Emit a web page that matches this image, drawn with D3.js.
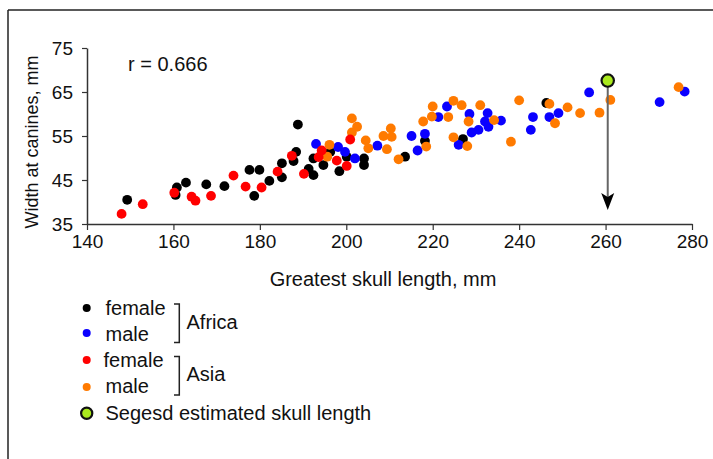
<!DOCTYPE html>
<html>
<head>
<meta charset="utf-8">
<script src="https://cdn.jsdelivr.net/npm/d3@7"></script>
<style>
  html, body { margin: 0; padding: 0; background: #fff; }
  svg { display: block; font-family: "Liberation Sans", Arial, sans-serif; }
</style>
</head>
<body>
<svg id="chart" width="713" height="459"></svg>
<script>
// ---- data ----
const xTicks = [140, 160, 180, 200, 220, 240, 260, 280];
const yTicks = [35, 45, 55, 65, 75];

const africaFemale = [
  [149.3, 40.5], [160.8, 43.3], [160.5, 41.6], [162.9, 44.4], [167.6, 44.0], [171.8, 43.6],
  [177.6, 47.3], [179.9, 47.3], [178.7, 41.4], [182.2, 44.8], [185.1, 45.6], [185.1, 48.8],
  [187.8, 49.3], [188.4, 51.4], [188.8, 57.6], [191.3, 47.5], [192.4, 46.1], [192.4, 49.9],
  [194.7, 48.4], [196.3, 51.4], [198.4, 47.0], [200.1, 50.3], [204.1, 49.9], [204.1, 48.4],
  [213.6, 50.3], [218.2, 53.9], [227.0, 54.3], [246.3, 62.5]
];
const africaMale = [
  [193.0, 53.2], [198.1, 52.5], [199.7, 51.4], [202.0, 49.9], [207.2, 52.8], [215.1, 55.0],
  [218.2, 55.5], [216.5, 51.7], [221.3, 59.3], [223.3, 61.7], [226.0, 53.0], [228.5, 60.0],
  [232.7, 60.2], [232.1, 58.3], [235.8, 58.5], [232.9, 57.1], [230.6, 56.4], [229.0, 55.8],
  [243.2, 59.3], [242.7, 56.4], [247.0, 59.3], [249.1, 60.2], [256.2, 64.9], [272.5, 62.7],
  [278.3, 65.1]
];
const asiaFemale = [
  [148.0, 37.3], [152.9, 39.5], [160.2, 42.1], [164.2, 41.2], [165.1, 40.3], [168.7, 41.4],
  [173.9, 46.0], [176.7, 43.5], [180.4, 43.3], [184.1, 46.9], [187.4, 50.5], [190.2, 46.4],
  [193.6, 50.2], [194.3, 51.7], [197.8, 49.4], [200.1, 48.2], [200.9, 54.2]
];
const asiaMale = [
  [196.1, 53.0], [195.6, 50.3], [201.3, 59.0], [202.5, 57.1], [201.3, 55.8], [204.5, 54.0],
  [205.1, 52.2], [209.4, 52.0], [208.6, 55.0], [210.3, 56.7], [210.5, 54.8], [212.1, 49.7],
  [218.5, 52.6], [217.8, 58.3], [220.0, 61.7], [219.8, 59.4], [223.6, 59.3], [224.8, 63.0],
  [224.8, 54.7], [226.7, 62.0], [231.0, 62.0], [228.3, 58.3], [234.2, 58.6], [228.0, 52.7],
  [240.0, 63.1], [238.1, 53.7], [247.0, 62.3], [248.3, 57.9], [251.2, 61.5], [254.1, 60.2],
  [258.6, 60.3], [261.1, 63.2], [276.9, 66.1]
];
const segesd = [260.5, 67.6];
const arrowEndY = 38.2;
const rLabel = "r = 0.666";

const legendRows = [
  { label: "female", color: "#000000" },
  { label: "male", color: "#0a00ff" },
  { label: "female", color: "#ff0000" },
  { label: "male", color: "#ff7a00" }
];
const legendGroups = ["Africa", "Asia"];
const segesdLabel = "Segesd estimated skull length";

// ---- drawing ----
const svg = d3.select("#chart");
const x = d3.scaleLinear().domain([140, 280]).range([87, 692]);
const y = d3.scaleLinear().domain([35, 75]).range([224, 48]);

// frame (top + left)
svg.append("line").attr("x1", 8).attr("y1", 10).attr("x2", 713).attr("y2", 10)
  .attr("stroke", "#222").attr("stroke-width", 1.5);
svg.append("line").attr("x1", 8).attr("y1", 10).attr("x2", 8).attr("y2", 459)
  .attr("stroke", "#222").attr("stroke-width", 1.5);

const axisColor = "#333";
const gx = svg.append("g").attr("transform", `translate(0,${y(35)})`)
  .call(d3.axisBottom(x).tickValues(xTicks).tickSize(6).tickSizeOuter(0).tickPadding(5));
const gy = svg.append("g").attr("transform", `translate(${x(140)},0)`)
  .call(d3.axisLeft(y).tickValues(yTicks).tickSize(5).tickSizeOuter(0).tickPadding(9));
[gx, gy].forEach(g => {
  g.select(".domain").attr("stroke", axisColor).attr("stroke-width", 1.5);
  g.selectAll(".tick line").attr("stroke", axisColor).attr("stroke-width", 1.2);
  g.selectAll(".tick text").attr("fill", "#111")
    .style("font-size", "19px").style("font-family", "'Liberation Sans', Arial, sans-serif");
});

svg.append("text").attr("x", 383).attr("y", 286).attr("text-anchor", "middle")
  .attr("fill", "#111").style("font-size", "20px").text("Greatest skull length, mm");
svg.append("text").attr("transform", `translate(38,142) rotate(-90)`).attr("text-anchor", "middle")
  .attr("fill", "#111").style("font-size", "18px").text("Width at canines, mm");
svg.append("text").attr("x", 128).attr("y", 71).attr("fill", "#111")
  .style("font-size", "20px").text(rLabel);

// points
const dotR = 4.9;
const groups = [
  { data: africaFemale, color: legendRows[0].color },
  { data: africaMale, color: legendRows[1].color },
  { data: asiaMale, color: legendRows[3].color },
  { data: asiaFemale, color: legendRows[2].color }
];
groups.forEach(gr => {
  svg.append("g").selectAll("circle").data(gr.data).join("circle")
    .attr("cx", d => x(d[0])).attr("cy", d => y(d[1])).attr("r", dotR)
    .attr("fill", gr.color);
});

// arrow
svg.append("line")
  .attr("x1", x(segesd[0])).attr("y1", y(segesd[1]))
  .attr("x2", x(segesd[0])).attr("y2", y(arrowEndY) - 6)
  .attr("stroke", "#666").attr("stroke-width", 2);
svg.append("path")
  .attr("d", `M${x(segesd[0]) - 6.5},${y(arrowEndY) - 17} L${x(segesd[0])},${y(arrowEndY) - 13} L${x(segesd[0]) + 6.5},${y(arrowEndY) - 17} L${x(segesd[0])},${y(arrowEndY)} Z`)
  .attr("fill", "#000");
svg.append("circle").attr("cx", x(segesd[0])).attr("cy", y(segesd[1])).attr("r", 6.2)
  .attr("fill", "#aaea1e").attr("stroke", "#111").attr("stroke-width", 2.2);

// legend
const legY = [308, 333, 360, 387];
const legTextY = [315, 340.5, 367, 393];
const legTextX = [105.5, 105.5, 103.5, 105.5];
legendRows.forEach((r, i) => {
  svg.append("circle").attr("cx", 86.7).attr("cy", legY[i]).attr("r", 4).attr("fill", r.color);
  svg.append("text").attr("x", legTextX[i]).attr("y", legTextY[i]).attr("fill", "#111")
    .style("font-size", "20px").text(r.label);
});
const brackets = [[304, 342.5], [356.5, 395]];
const groupTextY = [329, 381];
brackets.forEach((b, i) => {
  svg.append("path").attr("d", `M174,${b[0]} H179.3 V${b[1]} H174`)
    .attr("fill", "none").attr("stroke", "#222").attr("stroke-width", 1.5);
  svg.append("text").attr("x", 186.5).attr("y", groupTextY[i]).attr("fill", "#111")
    .style("font-size", "20px").text(legendGroups[i]);
});
svg.append("circle").attr("cx", 86.7).attr("cy", 413.3).attr("r", 5.6)
  .attr("fill", "#aaea1e").attr("stroke", "#111").attr("stroke-width", 2.2);
svg.append("text").attr("x", 105.5).attr("y", 420).attr("fill", "#111")
  .style("font-size", "20px").text(segesdLabel);
</script>
</body>
</html>
